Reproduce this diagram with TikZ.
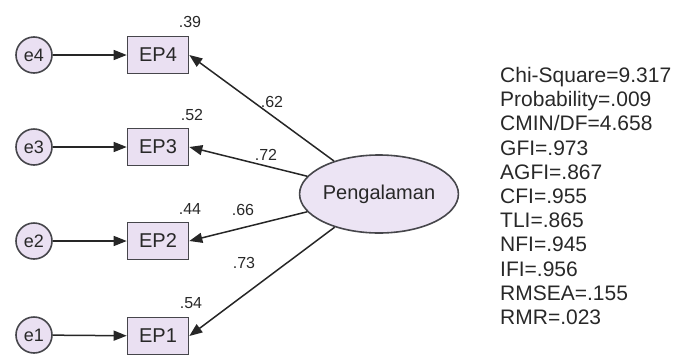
\documentclass[tikz,border=0pt]{standalone}
\usepackage{fontspec}
\setmainfont{Liberation Sans}
\usetikzlibrary{arrows.meta,shapes.geometric}
\definecolor{lav}{RGB}{234,224,242}
\definecolor{lavb}{RGB}{236,228,244}
\definecolor{edgegray}{RGB}{70,70,75}
\definecolor{txt}{RGB}{40,40,40}
\begin{document}
\begin{tikzpicture}[x=1pt,y=-1pt,
  errnode/.style={circle,draw=edgegray,line width=1.6pt,fill=lav,minimum size=36pt,inner sep=0pt,text=txt,font=\fontsize{18}{18}\selectfont},
  obsnode/.style={rectangle,draw=edgegray,line width=1.6pt,fill=lav,minimum width=61pt,minimum height=37pt,inner sep=0pt,text=txt,font=\fontsize{20}{20}\selectfont},
  latnode/.style={ellipse,draw=edgegray,line width=1.6pt,fill=lavb,minimum width=118pt,minimum height=78pt,inner sep=0pt,text=txt,font=\fontsize{20}{20}\selectfont},
  val/.style={inner sep=0pt,text=txt,font=\fontsize{16}{16}\selectfont},
  arr/.style={line width=1.5pt,draw=black!85,-{Triangle[length=13pt,width=10pt]}}]
\useasboundingbox (0,0) rectangle (680,354);

\node[errnode] (e4) at (34,55) {e4};
\node[errnode] (e3) at (34,147) {e3};
\node[errnode] (e2) at (34,241) {e2};
\node[errnode] (e1) at (34,335) {e1};

\node[obsnode] (EP4) at (158,55) {EP4};
\node[obsnode] (EP3) at (158,147) {EP3};
\node[obsnode] (EP2) at (158,241) {EP2};
\node[obsnode] (EP1) at (158,336) {EP1};

\node[latnode] (P) at (379,194) {Pengalaman};

\draw[arr] (e4) -- (EP4);
\draw[arr] (e3) -- (EP3);
\draw[arr] (e2) -- (EP2);
\draw[arr] (e1) -- (EP1);

\draw[arr] (P) -- (EP4.east);
\draw[arr] (P) -- (EP3.east);
\draw[arr] (P) -- (EP2.east);
\draw[arr] (P) -- (EP1.east);

\node[val] (r4) at (190,22) {.39};
\node[val] (r3) at (192,115) {.52};
\node[val] (r2) at (190,209) {.44};
\node[val] (r1) at (191,303) {.54};

\node[val] (l4) at (272,102) {.62};
\node[val] (l3) at (266,155) {.72};
\node[val] (l2) at (243,210) {.66};
\node[val] (l1) at (244,263) {.73};

\node[anchor=north west,inner sep=0pt,align=left,text=txt,font=\fontsize{21}{24.2}\selectfont] (stats) at (500,67)
{Chi-Square=9.317\\Probability=.009\\CMIN/DF=4.658\\GFI=.973\\AGFI=.867\\CFI=.955\\TLI=.865\\NFI=.945\\IFI=.956\\RMSEA=.155\\RMR=.023};
\end{tikzpicture}
\end{document}
